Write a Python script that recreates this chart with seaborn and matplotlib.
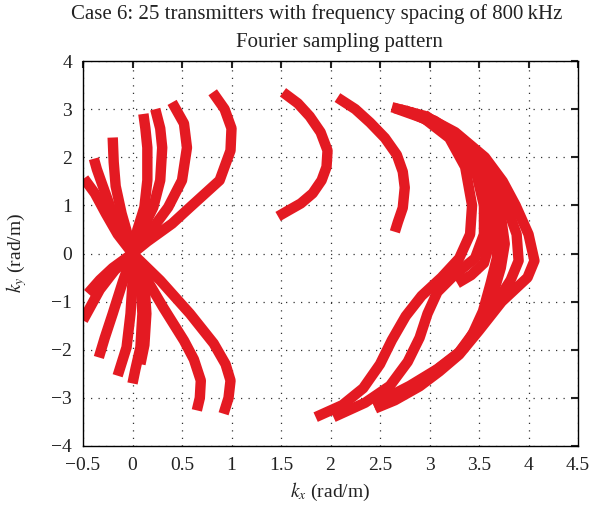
import numpy as np
import pandas as pd
import matplotlib
matplotlib.use("Agg")
import matplotlib.pyplot as plt
import seaborn as sns

TITLE_1 = "Case 6: 25 transmitters with frequency spacing of 800\u2009kHz"
TITLE_2 = "Fourier sampling pattern"
XTICKS = [-0.5, 0, 0.5, 1, 1.5, 2, 2.5, 3, 3.5, 4, 4.5]
YTICKS = [-4, -3, -2, -1, 0, 1, 2, 3, 4]

# --- curves: kx list, ky list ---
# fan through the origin, upper left
L1_x = [0.0, -0.15, -0.27, -0.38, -0.49]; L1_y = [0.0, 0.4, 0.83, 1.25, 1.56]
L2_x = [0.0, -0.12, -0.20, -0.30, -0.36, -0.39]; L2_y = [0.0, 0.5, 0.83, 1.4, 1.75, 1.97]
L3_x = [0.0, -0.05, -0.11, -0.17, -0.19, -0.20]; L3_y = [0.0, 0.4, 0.83, 1.4, 1.9, 2.41]
# upper right
U1_x = [0.0, 0.05, 0.12, 0.15, 0.15, 0.13, 0.11]; U1_y = [0.0, 0.5, 0.96, 1.52, 2.2, 2.6, 2.9]
U2_x = [0.0, 0.10, 0.21, 0.28, 0.30, 0.28, 0.23]; U2_y = [0.0, 0.5, 0.96, 1.52, 2.2, 2.6, 3.0]
U3_x = [0.0, 0.10, 0.21, 0.36, 0.50, 0.55, 0.52, 0.40]
U3_y = [0.0, 0.25, 0.54, 0.96, 1.52, 2.2, 2.7, 3.14]
U4_x = [0.0, 0.15, 0.40, 0.58, 0.88, 0.99, 1.00, 0.93, 0.81]
U4_y = [0.0, 0.25, 0.62, 0.96, 1.52, 2.14, 2.6, 3.0, 3.35]
# lower left
D1_x = [0.0, -0.2, -0.33, -0.45]; D1_y = [0.0, -0.3, -0.55, -0.83]
D2_x = [0.0, -0.18, -0.33, -0.5]; D2_y = [0.0, -0.35, -0.75, -1.39]
D3_x = [0.0, -0.1, -0.2, -0.28, -0.34]; D3_y = [0.0, -0.6, -1.25, -1.75, -2.16]
D4_x = [0.0, 0.0, -0.02, -0.06, -0.15]; D4_y = [0.0, -0.6, -1.25, -1.95, -2.54]
D5_x = [0.0, 0.08, 0.10, 0.08, 0.03, 0.0]; D5_y = [0.0, -0.6, -1.25, -1.95, -2.4, -2.7]
D8_x = [0.0, 0.12, 0.14, 0.12, 0.08]; D8_y = [0.0, -0.6, -1.25, -1.9, -2.3]
D6_x = [0.0, 0.15, 0.31, 0.52, 0.62, 0.69, 0.68, 0.65]
D6_y = [0.0, -0.56, -1.12, -1.81, -2.2, -2.64, -3.0, -3.26]
D7_x = [0.0, 0.28, 0.58, 0.82, 0.94, 0.99, 0.97, 0.92]
D7_y = [0.0, -0.56, -1.25, -1.87, -2.3, -2.64, -3.0, -3.33]
# two single arcs in the middle
A_x = [1.52, 1.67, 1.79, 1.90, 1.97, 1.96, 1.91, 1.82, 1.70, 1.58, 1.47]
A_y = [3.35, 3.12, 2.85, 2.52, 2.14, 1.80, 1.52, 1.25, 1.04, 0.90, 0.77]
B_x = [2.07, 2.25, 2.40, 2.55, 2.67, 2.73, 2.75, 2.73, 2.68, 2.65]
B_y = [3.24, 3.00, 2.72, 2.40, 2.05, 1.70, 1.37, 0.95, 0.65, 0.45]
# right-hand bundle
Ra_x = [2.62, 2.95, 3.26, 3.56, 3.74, 3.87, 4.00, 4.06, 3.99, 3.73, 3.50, 3.30, 3.10, 2.90, 2.65, 2.45]
Ra_y = [3.04, 2.86, 2.52, 2.00, 1.50, 1.00, 0.40, -0.15, -0.50, -1.00, -1.60, -2.10, -2.45, -2.76, -3.05, -3.22]
Rb_x = [2.70, 3.05, 3.35, 3.58, 3.76, 3.88, 3.90, 3.82, 3.68, 3.48, 3.28, 3.02, 2.74, 2.44]
Rb_y = [3.00, 2.76, 2.35, 1.80, 1.10, 0.40, -0.15, -0.55, -1.00, -1.60, -2.10, -2.50, -2.90, -3.18]
Rf_x = [2.85, 3.15, 3.42, 3.62, 3.72, 3.76, 3.72, 3.62, 3.46, 3.30, 3.08, 2.80, 2.45]
Rf_y = [2.92, 2.60, 2.10, 1.40, 0.80, 0.20, -0.30, -1.00, -1.60, -2.05, -2.40, -2.75, -3.12]
Rh_x = [2.95, 3.25, 3.50, 3.66, 3.70, 3.68, 3.62, 3.54, 3.44, 3.34]
Rh_y = [2.88, 2.45, 1.85, 1.10, 0.50, -0.10, -0.60, -1.20, -1.65, -2.00]
Rg_x = [2.80, 3.10, 3.36, 3.55, 3.62, 3.62, 3.55, 3.42, 3.28]
Rg_y = [2.95, 2.65, 2.15, 1.50, 0.90, 0.30, -0.20, -0.45, -0.62]
Re_x = [2.75, 3.05, 3.30, 3.48, 3.55, 3.55, 3.46, 3.25, 3.08, 2.98, 2.90, 2.78, 2.60, 2.35, 2.03]
Re_y = [2.98, 2.70, 2.25, 1.60, 1.00, 0.40, -0.10, -0.45, -0.80, -1.25, -1.75, -2.25, -2.75, -3.10, -3.40]
Rd_x = [2.65, 2.95, 3.20, 3.36, 3.43, 3.41, 3.30, 3.12, 2.92, 2.76, 2.62, 2.50, 2.33, 2.12, 1.85]
Rd_y = [3.02, 2.80, 2.40, 1.80, 1.00, 0.40, -0.10, -0.50, -0.88, -1.30, -1.80, -2.30, -2.80, -3.15, -3.40]

curves = {
    "L1": (L1_x, L1_y), "L2": (L2_x, L2_y), "L3": (L3_x, L3_y),
    "U1": (U1_x, U1_y), "U2": (U2_x, U2_y), "U3": (U3_x, U3_y), "U4": (U4_x, U4_y),
    "D1": (D1_x, D1_y), "D2": (D2_x, D2_y), "D3": (D3_x, D3_y), "D4": (D4_x, D4_y),
    "D5": (D5_x, D5_y), "D8": (D8_x, D8_y), "D6": (D6_x, D6_y), "D7": (D7_x, D7_y),
    "A": (A_x, A_y), "B": (B_x, B_y),
    "Ra": (Ra_x, Ra_y), "Rb": (Rb_x, Rb_y), "Rf": (Rf_x, Rf_y), "Rh": (Rh_x, Rh_y),
    "Rg": (Rg_x, Rg_y), "Re": (Re_x, Re_y), "Rd": (Rd_x, Rd_y),
}

rows = []
for name, (xs, ys) in curves.items():
    for i, (x, y) in enumerate(zip(xs, ys)):
        rows.append({"curve": name, "order": i, "kx": x, "ky": y})
df = pd.DataFrame(rows)

sns.set_theme(style="white")
plt.rcParams["font.family"] = ["Liberation Serif", "DejaVu Serif"]
plt.rcParams["mathtext.fontset"] = "stix"

fig = plt.figure(figsize=(6.03, 5.08), dpi=100)
ax = fig.add_axes([83/603, 1-446/508, (578-83)/603, (446-61)/508])

RED = "#E41A22"
sns.lineplot(data=df, x="kx", y="ky", units="curve", estimator=None, sort=False,
             color=RED, linewidth=7.5, ax=ax, legend=False,
             solid_capstyle="butt", solid_joinstyle="round")

ax.set_xlim(-0.5, 4.5)
ax.set_ylim(-4, 4)
ax.set_xticks(XTICKS)
ax.set_xticklabels([("\u22120.5" if t == -0.5 else f"{t:g}") for t in XTICKS])
ax.set_yticks(YTICKS)
ax.set_yticklabels([(f"\u2212{abs(t)}" if t < 0 else f"{t}") for t in YTICKS])
ax.tick_params(direction="in", length=5, width=1.5, top=True, right=True,
               labelsize=14, colors="#222222")
ax.tick_params(axis="x", pad=8)
ax.tick_params(axis="y", pad=8)
ax.grid(True, linestyle=(0, (1, 5)), color="#333333", linewidth=0.9)
for s in ax.spines.values():
    s.set_visible(True)
    s.set_color("black")
    s.set_linewidth(1.0)

ax.set_xlabel("$k_x$ (rad/m)", fontsize=14, color="#222222")
ax.set_ylabel("$k_y$ (rad/m)", fontsize=14, color="#222222")
ax.xaxis.set_label_coords((330 - 83) / 495, -(492 - 446) / 385)
ax.yaxis.set_label_coords(-(83 - 17) / 495, (446 - 253) / 385)
ax.xaxis.label.set_va("center")
ax.yaxis.label.set_va("center")

fig.text(317 / 603, 1 - 14 / 508, TITLE_1, ha="center", va="center", fontsize=15, color="#222222")
fig.text(339 / 603, 1 - 42 / 508, TITLE_2, ha="center", va="center", fontsize=15, color="#222222")

fig.savefig("out.png", dpi=100)
